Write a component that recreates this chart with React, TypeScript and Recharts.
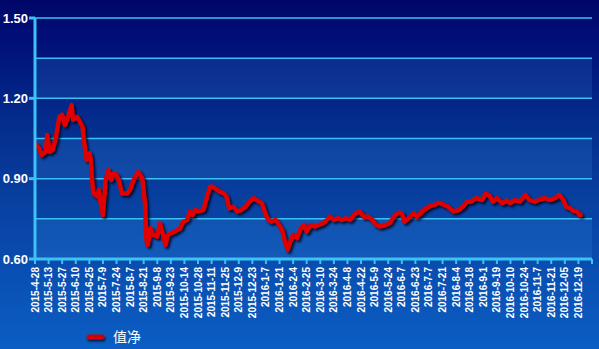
import { LineChart, Line, XAxis, YAxis, CartesianGrid, ReferenceArea } from "recharts";

// x axis labels, one every 10 trading days
const tickLabels = [
  "2015-4-28", "2015-5-13", "2015-5-27", "2015-6-10", "2015-6-25", "2015-7-9",
  "2015-7-24", "2015-8-7", "2015-8-21", "2015-9-8", "2015-9-23", "2015-10-14",
  "2015-10-28", "2015-11-11", "2015-11-25", "2015-12-9", "2015-12-23", "2016-1-7",
  "2016-1-21", "2016-2-4", "2016-2-25", "2016-3-10", "2016-3-24", "2016-4-8",
  "2016-4-22", "2016-5-9", "2016-5-24", "2016-6-7", "2016-6-23", "2016-7-7",
  "2016-7-21", "2016-8-4", "2016-8-18", "2016-9-1", "2016-9-19", "2016-10-10",
  "2016-10-24", "2016-11-7", "2016-11-21", "2016-12-05", "2016-12-19",
];

// trading day index (from 2015-4-28) and net value
const navDays = [
  0, 3, 5, 8, 9, 11, 13, 15, 18, 20, 22, 24, 27, 28, 31, 33, 35, 36, 38, 40,
  41, 42, 43, 46, 47, 48, 50, 52, 54, 56, 58, 60, 62, 64, 68, 70, 73, 75, 76, 79,
  81, 82, 83, 85, 87, 90, 92, 94, 96, 98, 100, 103, 107, 109, 112, 114, 116, 118, 120, 124,
  127, 129, 131, 134, 136, 139, 141, 143, 146, 149, 152, 155, 158, 161, 165, 167, 170, 172, 174, 177,
  179, 182, 184, 186, 188, 190, 193, 195, 198, 200, 203, 206, 209, 212, 215, 217, 220, 223, 226, 229,
  232, 236, 239, 242, 245, 248, 251, 254, 258, 261, 265, 268, 270, 272, 275, 279, 281, 284, 287, 291,
  294, 297, 301, 304, 308, 312, 315, 318, 321, 325, 329, 332, 335, 337, 340, 344, 347, 350, 353, 357,
  361, 364, 368, 372, 375, 379, 383, 386, 389, 391, 394, 396, 399, 401, 403,
];
const navValues = [
  1.032, 1.013, 0.988, 1.0, 1.063, 1.0, 1.007, 1.044, 1.131, 1.138, 1.1, 1.125, 1.175, 1.119, 1.131, 1.113, 1.094, 1.044, 0.97, 0.995,
  0.976, 0.895, 0.845, 0.833, 0.858, 0.82, 0.764, 0.895, 0.932, 0.895, 0.92, 0.914, 0.889, 0.845, 0.845, 0.858, 0.901, 0.914, 0.926, 0.901,
  0.808, 0.671, 0.652, 0.715, 0.69, 0.683, 0.733, 0.696, 0.652, 0.69, 0.696, 0.702, 0.715, 0.739, 0.746, 0.777, 0.764, 0.783, 0.777, 0.783,
  0.839, 0.87, 0.87, 0.858, 0.851, 0.845, 0.833, 0.789, 0.795, 0.777, 0.783, 0.795, 0.814, 0.827, 0.814, 0.808, 0.764, 0.746, 0.739, 0.746,
  0.733, 0.708, 0.665, 0.634, 0.665, 0.69, 0.677, 0.708, 0.727, 0.702, 0.727, 0.721, 0.727, 0.733, 0.746, 0.758, 0.746, 0.752, 0.746, 0.752,
  0.746, 0.771, 0.777, 0.758, 0.758, 0.748, 0.727, 0.721, 0.727, 0.733, 0.764, 0.773, 0.771, 0.739, 0.752, 0.771, 0.758, 0.771, 0.786, 0.798,
  0.802, 0.81, 0.802, 0.795, 0.777, 0.783, 0.795, 0.814, 0.814, 0.827, 0.82, 0.845, 0.833, 0.814, 0.827, 0.808, 0.818, 0.808, 0.82, 0.814,
  0.839, 0.82, 0.814, 0.823, 0.827, 0.82, 0.827, 0.839, 0.82, 0.795, 0.789, 0.78, 0.777, 0.764, 0.767,
];

const yTicks = [0.6, 0.75, 0.9, 1.05, 1.2, 1.35, 1.5];
const yLabeled = [0.6, 0.9, 1.2, 1.5];
const lightBands = [
  [0.6, 0.75],
  [0.9, 1.05],
  [1.2, 1.35],
];

const data = navDays.map((day, i) => ({ day, nav: navValues[i] }));
const xTicks = [...tickLabels.map((_, i) => i * 10), tickLabels.length * 10];

const CYAN = "#3cc2f4";

function XTick({ x, y, payload }: any) {
  const label = tickLabels[payload.value / 10];
  if (!label) return null;
  return (
    <text
      x={x}
      y={y}
      transform={`rotate(-90 ${x} ${y})`}
      textAnchor="end"
      dominantBaseline="central"
      fill="#fff"
      fontSize={10}
      fontWeight="bold"
    >
      {label}
    </text>
  );
}

function YTick({ x, y, payload }: any) {
  if (!yLabeled.includes(payload.value)) return null;
  return (
    <g>
      <line x1={x - 6} x2={x} y1={y} y2={y} stroke={CYAN} strokeWidth={3} />
      <text x={x - 7} y={y} textAnchor="end" dominantBaseline="central" fill="#fff" fontSize={13} fontWeight="bold">
        {payload.value.toFixed(2)}
      </text>
    </g>
  );
}

export default function App() {
  return (
    <div
      style={{
        position: "fixed",
        left: 0,
        top: 0,
        width: 599,
        height: 349,
        fontFamily: "'Liberation Sans', Arial, sans-serif",
        background:
          "linear-gradient(to bottom, #000668 0%, #000f78 11%, #042c8c 34%, #0840a0 57%, #0b5ec4 100%)",
      }}
    >
      <style>{`.recharts-line-curve { filter: drop-shadow(2px 2px 1.2px rgba(0,0,20,0.75)); }`}</style>
      <LineChart width={599} height={349} data={data} margin={{ top: 18, right: 7, left: 0, bottom: 30 }}>
        {lightBands.map(([lo, hi]) => (
          <ReferenceArea key={lo} y1={lo} y2={hi} fill="#50b4ff" fillOpacity={0.14} stroke="none" />
        ))}
        <CartesianGrid vertical={false} stroke={CYAN} strokeWidth={1.5} />
        <XAxis
          type="number"
          dataKey="day"
          domain={[0, 410]}
          ticks={xTicks}
          interval={0}
          height={60}
          axisLine={{ stroke: CYAN, strokeWidth: 3 }}
          tickLine={{ stroke: CYAN, strokeWidth: 2 }}
          tickSize={5}
          tickMargin={3}
          tick={<XTick />}
        />
        <YAxis
          domain={[0.6, 1.5]}
          ticks={yTicks}
          interval={0}
          width={35}
          axisLine={{ stroke: CYAN, strokeWidth: 3 }}
          tickLine={false}
          tickSize={0}
          tickMargin={0}
          tick={<YTick />}
        />
        <Line
          type="linear"
          dataKey="nav"
          stroke="#e00000"
          strokeWidth={4.5}
          strokeLinejoin="round"
          dot={false}
          isAnimationActive={false}
        />
      </LineChart>
      <svg style={{ position: "absolute", left: 84, top: 326 }} width={80} height={22}>
        <line
          x1={5}
          x2={18}
          y1={11}
          y2={11}
          stroke="#d40000"
          strokeWidth={5}
          strokeLinecap="round"
          style={{ filter: "drop-shadow(1px 2px 1px rgba(0,0,20,0.7))" }}
        />
        <text x={29} y={16} fill="#fff" fontSize={14} fontFamily="'Noto Sans CJK SC', sans-serif">
          值净
        </text>
      </svg>
    </div>
  );
}
